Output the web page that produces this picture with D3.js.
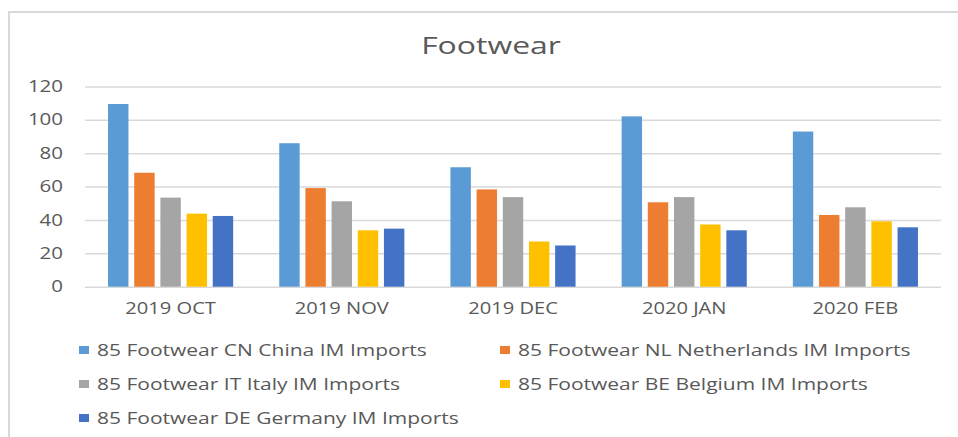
<!DOCTYPE html>
<html>
<head>
<meta charset="utf-8">
<script src="https://cdn.jsdelivr.net/npm/d3@7"></script>
<style>
  html, body { margin: 0; padding: 0; background: #fff; }
  svg { display: block; }
  text { font-family: "Open Sans", "Noto Sans", sans-serif; fill: #595959; }
</style>
</head>
<body>
<svg id="chart" width="958" height="437"></svg>
<script>
// Monthly footwear imports by partner country
const months = ["2019 OCT", "2019 NOV", "2019 DEC", "2020 JAN", "2020 FEB"];
const seriesNames = [
  "85 Footwear CN China IM Imports",
  "85 Footwear NL Netherlands IM Imports",
  "85 Footwear IT Italy IM Imports",
  "85 Footwear BE Belgium IM Imports",
  "85 Footwear DE Germany IM Imports"
];
const chinaValues       = [109.5, 86.0, 71.6, 102.1, 93.0];
const netherlandsValues = [68.3, 59.1, 58.3, 50.6, 43.0];
const italyValues       = [53.4, 51.2, 53.7, 53.7, 47.6];
const belgiumValues     = [43.8, 33.8, 27.1, 37.3, 39.2];
const germanyValues     = [42.4, 34.8, 24.7, 33.8, 35.6];
const yTicks = [0, 20, 40, 60, 80, 100, 120];
const colors = ["#5B9BD5", "#ED7D31", "#A5A5A5", "#FFC000", "#4472C4"];

const seriesValues = [chinaValues, netherlandsValues, italyValues, belgiumValues, germanyValues];
const rows = months.map((m, i) => ({
  month: m,
  values: seriesNames.map((s, j) => ({ series: s, value: seriesValues[j][i] }))
}));

const svg = d3.select("#chart");

// stretch text horizontally by a factor, keeping its anchor
function widen(sel, k) {
  sel.each(function () {
    const w = this.getComputedTextLength();
    d3.select(this).attr("textLength", w * k).attr("lengthAdjust", "spacingAndGlyphs");
  });
}

// chart frame
svg.append("rect")
  .attr("x", 9).attr("y", 12)
  .attr("width", 1000).attr("height", 500)
  .attr("fill", "#fff")
  .attr("stroke", "#d9d9d9").attr("stroke-width", 2);

const plot = { left: 85, right: 941, top: 86.5, bottom: 286.7 };

const x0 = d3.scaleBand().domain(months).range([plot.left, plot.right]).padding(0);
const x1 = d3.scaleBand().domain(seriesNames).range([0, x0.bandwidth()])
  .paddingInner(0.22).paddingOuter(0.88);
const y = d3.scaleLinear().domain([0, 120]).range([plot.bottom, plot.top]);
const color = d3.scaleOrdinal().domain(seriesNames).range(colors);

// gridlines and y labels
const yAxis = svg.append("g")
  .attr("transform", `translate(${plot.left},0)`)
  .call(d3.axisLeft(y).tickValues(yTicks).tickSize(-(plot.right - plot.left)).tickPadding(22));
yAxis.select(".domain").remove();
yAxis.selectAll(".tick line").attr("stroke", "#d9d9d9").attr("stroke-width", 1.5);
yAxis.selectAll(".tick text")
  .attr("font-size", 16).attr("fill", "#595959")
  .style("font-family", "'Open Sans', sans-serif")
  .call(widen, 1.28);

// bars
svg.append("g").selectAll("g")
  .data(rows).join("g")
  .attr("transform", d => `translate(${x0(d.month)},0)`)
  .selectAll("rect")
  .data(d => d.values).join("rect")
  .attr("x", d => x1(d.series))
  .attr("width", x1.bandwidth())
  .attr("y", d => y(d.value))
  .attr("height", d => y(0) - y(d.value))
  .attr("fill", d => color(d.series));

// x labels
const xAxis = svg.append("g")
  .attr("transform", `translate(0,${plot.bottom})`)
  .call(d3.axisBottom(x0).tickSize(0).tickPadding(16));
xAxis.select(".domain").remove();
xAxis.selectAll(".tick text")
  .attr("font-size", 16.5).attr("fill", "#595959")
  .style("font-family", "'Open Sans', sans-serif")
  .call(widen, 1.22);

// title
svg.append("text")
  .attr("x", 491).attr("y", 54)
  .attr("text-anchor", "middle")
  .attr("font-size", 24)
  .text("Footwear")
  .call(widen, 1.33);

// legend
const legendPos = [
  { x: 79, y: 350 }, { x: 500, y: 350 },
  { x: 79, y: 384 }, { x: 500, y: 384 },
  { x: 79, y: 418 }
];
const legend = svg.append("g").selectAll("g")
  .data(seriesNames).join("g")
  .attr("transform", (d, i) => `translate(${legendPos[i].x},${legendPos[i].y})`);
legend.append("rect")
  .attr("x", 0).attr("y", -4).attr("width", 10).attr("height", 8)
  .attr("fill", d => color(d));
legend.append("text")
  .attr("x", 18).attr("y", 0).attr("dy", "0.36em")
  .attr("font-size", 17)
  .text(d => d)
  .call(widen, 1.235);
</script>
</body>
</html>
